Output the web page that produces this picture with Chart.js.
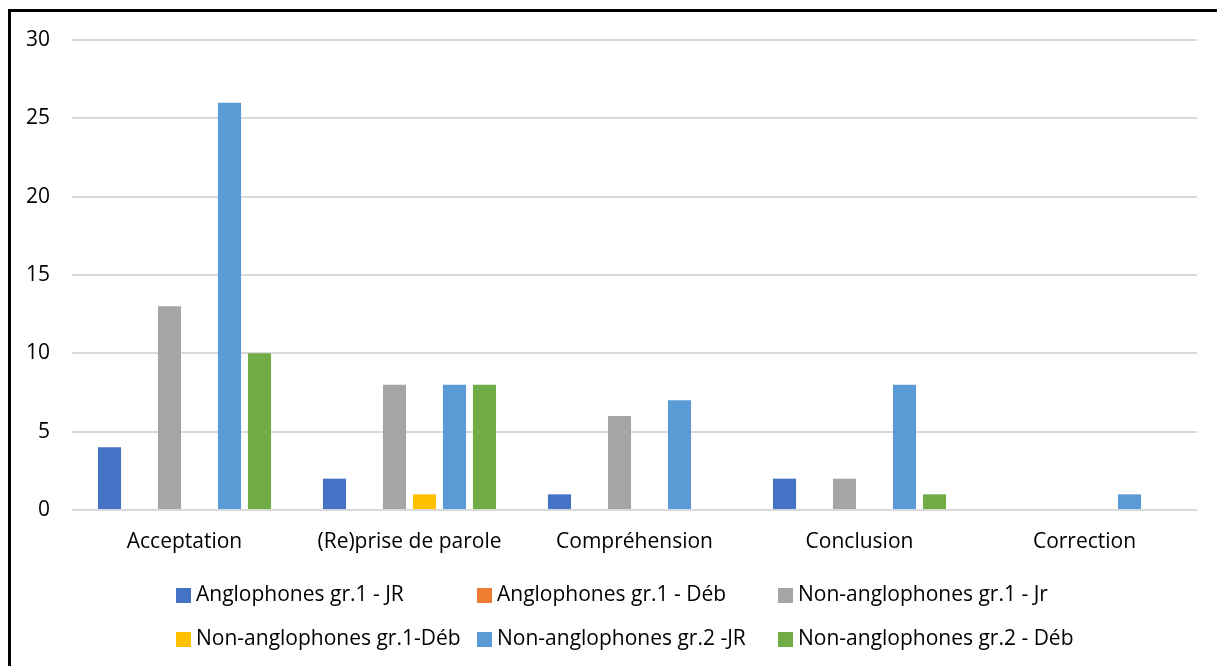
<!DOCTYPE html>
<html>
<head>
<meta charset="utf-8">
<script src="https://cdn.jsdelivr.net/npm/chart.js@4"></script>
<style>
  html, body { margin: 0; padding: 0; background: #fff; overflow: hidden; }
  #frame { position: absolute; left: 8px; top: 9px; width: 1400px; height: 900px; border: 3px solid #000; }
  #wrap { position: absolute; left: 0; top: 0; width: 1217px; height: 666px; }
</style>
</head>
<body>
<div id="frame"></div>
<div id="wrap"><canvas id="chart_1" width="1217" height="666"></canvas></div>
<script>
// categories and series
const categories = ['Acceptation', '(Re)prise de parole', 'Compréhension', 'Conclusion', 'Correction'];
const angl_gr1_jr = [4, 2, 1, 2, 0];
const angl_gr1_deb = [0, 0, 0, 0, 0];
const nonangl_gr1_jr = [13, 8, 6, 2, 0];
const nonangl_gr1_deb = [0, 1, 0, 0, 0];
const nonangl_gr2_jr = [26, 8, 7, 8, 1];
const nonangl_gr2_deb = [10, 8, 0, 1, 0];
const series_labels = ['Anglophones gr.1 - JR', 'Anglophones gr.1 - Déb', 'Non-anglophones gr.1 - Jr',
    'Non-anglophones gr.1-Déb', 'Non-anglophones gr.2 -JR', 'Non-anglophones gr.2 - Déb'];
const y_ticks = [0, 5, 10, 15, 20, 25, 30];

window.onload = () => {
    const colors = ['#4472C4', '#ED7D31', '#A5A5A5', '#FFC000', '#5B9BD5', '#70AD47'];
    const values = [angl_gr1_jr, angl_gr1_deb, nonangl_gr1_jr, nonangl_gr1_deb, nonangl_gr2_jr, nonangl_gr2_deb];
    const font = { family: '"Open Sans", sans-serif', size: 21 };

    // excel-like legend: 3 fixed columns, 2 rows
    const gridLegend = {
        id: 'gridLegend',
        afterDraw(chart) {
            const c = chart.ctx;
            c.save();
            c.font = `${font.size}px ${font.family}`;
            c.textBaseline = 'middle';
            chart.data.datasets.forEach((ds, i) => {
                const x = 176 + (i % 3) * 301;
                const y = 595 + Math.floor(i / 3) * 44;
                c.fillStyle = ds.backgroundColor;
                c.fillRect(x, y - 7, 15, 15);
                c.fillStyle = '#000';
                c.fillText(ds.label, x + 20, y);
            });
            c.restore();
        }
    };

    const ctx = document.getElementById('chart_1').getContext('2d');
    new Chart(ctx, {
        type: 'bar',
        data: {
            labels: categories,
            datasets: values.map((v, i) => ({
                label: series_labels[i],
                data: v,
                backgroundColor: colors[i],
                borderWidth: 0,
                categoryPercentage: 0.8,
                barPercentage: 0.77
            }))
        },
        options: {
            responsive: false,
            animation: false,
            layout: { padding: { left: 20, right: 20, top: 40, bottom: 108 } },
            plugins: {
                tooltip: { enabled: false },
                legend: { display: false }
            },
            scales: {
                x: {
                    grid: { display: false },
                    border: { display: false },
                    ticks: { color: '#000', font: font, padding: 11, maxRotation: 0 },
                    afterFit: s => { s.height = 48; }
                },
                y: {
                    min: 0, max: 30,
                    afterBuildTicks: s => { s.ticks = y_ticks.map(v => ({ value: v })); },
                    grid: { color: '#d9d9d9', lineWidth: 2, drawTicks: false },
                    border: { display: false },
                    ticks: { color: '#000', font: font, padding: 22 },
                    afterFit: s => { s.width = 52; }
                }
            }
        },
        plugins: [gridLegend]
    });
};
</script>
</body>
</html>
